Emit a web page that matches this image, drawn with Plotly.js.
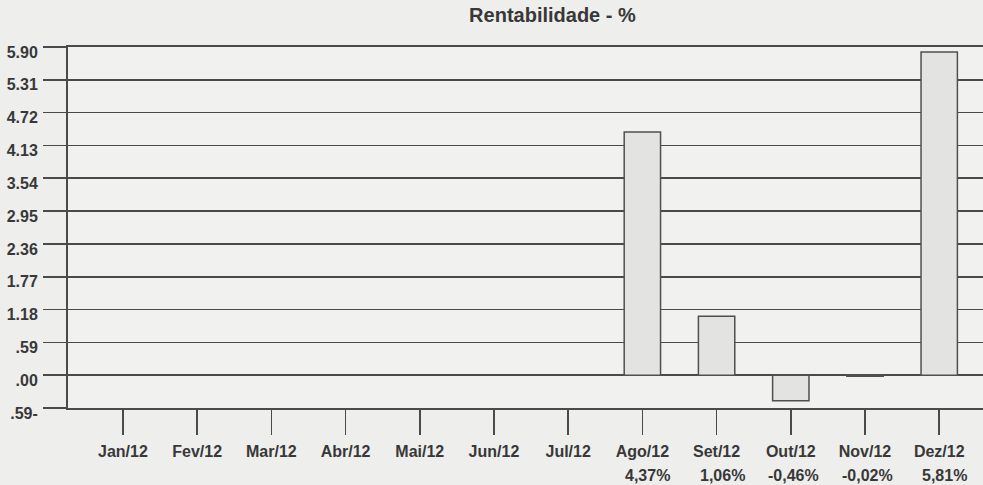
<!DOCTYPE html>
<html><head><meta charset="utf-8">
<script src="https://cdn.plot.ly/plotly-3.0.1.min.js"></script>
<style>html,body{margin:0;padding:0;background:#eeeeec;}#c{width:983px;height:485px;}</style>
</head><body><div id="c"></div>
<script>
const months = ["Jan/12","Fev/12","Mar/12","Abr/12","Mai/12","Jun/12","Jul/12","Ago/12","Set/12","Out/12","Nov/12","Dez/12"];
const values = [null,null,null,null,null,null,null,4.37,1.06,-0.46,-0.02,5.81];
const pctLabels = ["","","","","","","","4,37%","1,06%","-0,46%","-0,02%","5,81%"];
const yTickVals = [-0.59,0,0.59,1.18,1.77,2.36,2.95,3.54,4.13,4.72,5.31,5.90];
const yTickText = [".59-",".00",".59","1.18","1.77","2.36","2.95","3.54","4.13","4.72","5.31","5.90"];

const ink = "#4a4a4a";
const txt = "#383838";
const font = "Liberation Sans, Arial, sans-serif";

const trace = {
  type: "bar", x: months, y: values, width: 0.49,
  marker: {color: "#e3e3e1", line: {color: "#505050", width: 1.5}},
  hoverinfo: "skip"
};

const annotations = months.map((m, i) => ({
  xref: "x", yref: "paper", x: m, y: -0.186, yanchor: "middle",
  xanchor: "right", xshift: 30, showarrow: false,
  text: pctLabels[i],
  font: {family: font, size: 16, color: txt, weight: "bold"}
})).filter((a, i) => pctLabels[i] !== "");

const layout = {
  width: 983, height: 485,
  margin: {l: 68, r: 0, t: 47, b: 77},
  paper_bgcolor: "#eeeeec", plot_bgcolor: "#f1f1ef",
  showlegend: false,
  title: {text: "<b>Rentabilidade - %</b>", x: 0.562, xanchor: "center", y: 0.969, yanchor: "middle",
          font: {family: font, size: 20, color: txt}},
  xaxis: {
    type: "category", range: [-0.74, 11.59],
    showgrid: false, zeroline: false,
    showline: true, mirror: true, linecolor: ink, linewidth: 2,
    ticks: "outside", ticklen: 25, tickwidth: 1.6, tickcolor: ink,
    ticklabelstandoff: 3,
    tickfont: {family: font, size: 16, color: txt, weight: "bold"},
    fixedrange: true
  },
  yaxis: {
    range: [-0.59, 5.90],
    tickmode: "array", tickvals: yTickVals, ticktext: yTickText,
    showgrid: true, gridcolor: ink, gridwidth: 1.6,
    zeroline: true, zerolinecolor: ink, zerolinewidth: 2,
    showline: true, linecolor: ink, linewidth: 2,
    ticks: "outside", ticklen: 23, tickwidth: 1.6, tickcolor: ink,
    ticklabelstandoff: 2, ticklabelshift: 5,
    tickfont: {family: font, size: 16, color: txt, weight: "bold"},
    fixedrange: true
  },
  annotations: annotations
};

Plotly.newPlot("c", [trace], layout, {displayModeBar: false, staticPlot: true});
</script>
</body></html>
